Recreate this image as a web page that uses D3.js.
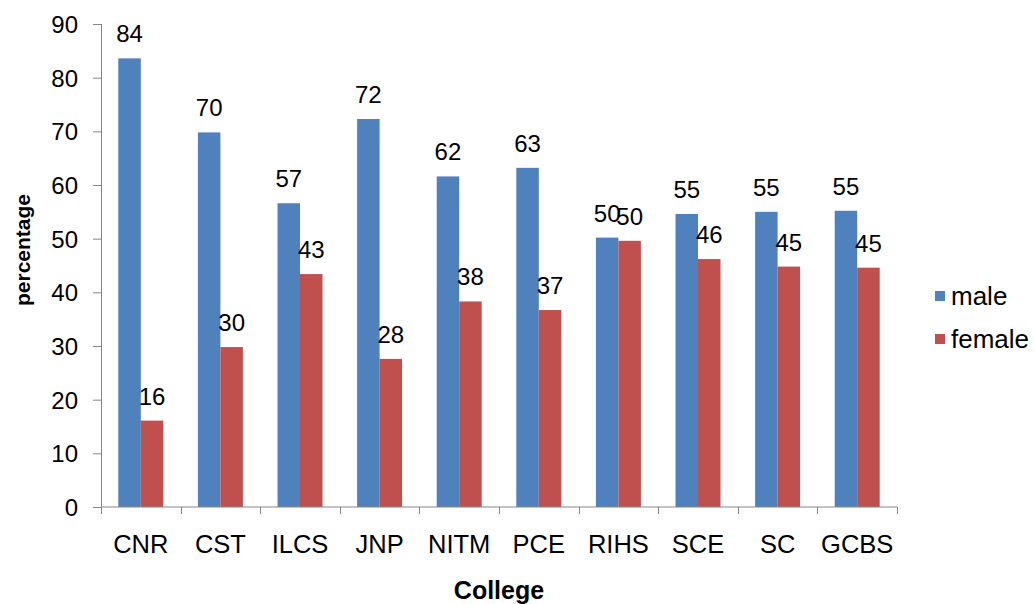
<!DOCTYPE html>
<html>

<head>
    <script src="https://d3js.org/d3.v7.min.js"></script>
    <style>
        body {
            margin: 0;
            background: #ffffff;
        }

        svg text {
            font-family: "Liberation Sans", Arial, sans-serif;
            fill: #000;
        }
    </style>
</head>

<body>
    <div id="chart"></div>

    <script>
        var colleges = ["CNR", "CST", "ILCS", "JNP", "NITM", "PCE", "RIHS", "SCE", "SC", "GCBS"];
        var male = [83.6, 69.8, 56.6, 72.3, 61.6, 63.2, 50.2, 54.6, 55.0, 55.2];
        var female = [16.1, 29.8, 43.4, 27.6, 38.3, 36.7, 49.6, 46.2, 44.8, 44.6];
        var seriesNames = ["male", "female"];
        var yTicks = [0, 10, 20, 30, 40, 50, 60, 70, 80, 90];

        var width = 1034,
            height = 604;

        var margin = { top: 24, right: 137, bottom: 97, left: 101 };
        var innerW = width - margin.left - margin.right,
            innerH = height - margin.top - margin.bottom;

        var color = d3.scaleOrdinal()
            .domain(seriesNames)
            .range(["#4f81bd", "#c0504d"]);

        var axisColor = "#868686";

        var svg = d3.select("#chart")
            .append("svg")
            .attr("width", width)
            .attr("height", height);

        var g = svg.append("g")
            .attr("transform", "translate(" + margin.left + "," + margin.top + ")");

        var x0 = d3.scaleBand()
            .domain(colleges)
            .range([0, innerW])
            .paddingInner(0.435)
            .paddingOuter(0.2175);

        var x1 = d3.scaleBand()
            .domain(seriesNames)
            .range([0, x0.bandwidth()]);

        var y = d3.scaleLinear()
            .domain([0, 90])
            .range([innerH, 0]);

        var data = colleges.map(function(c, i) {
            return { college: c, values: [
                { key: "male", value: male[i] },
                { key: "female", value: female[i] }
            ] };
        });

        // bars
        var groups = g.selectAll(".group")
            .data(data)
            .enter()
            .append("g")
            .attr("class", "group")
            .attr("transform", function(d) {
                return "translate(" + x0(d.college) + ",0)";
            });

        groups.selectAll("rect")
            .data(function(d) { return d.values; })
            .enter()
            .append("rect")
            .attr("x", function(d) { return x1(d.key); })
            .attr("y", function(d) { return y(d.value); })
            .attr("width", x1.bandwidth())
            .attr("height", function(d) { return innerH - y(d.value); })
            .attr("fill", function(d) { return color(d.key); });

        groups.selectAll(".val")
            .data(function(d) { return d.values; })
            .enter()
            .append("text")
            .attr("class", "val")
            .attr("x", function(d) { return x1(d.key) + x1.bandwidth() / 2; })
            .attr("y", function(d) { return y(d.value) - 16; })
            .attr("text-anchor", "middle")
            .style("font-size", "24px")
            .text(function(d) { return d3.format(".0f")(d.value); });

        // y axis
        var yAxis = g.append("g")
            .call(d3.axisLeft(y).tickValues(yTicks).tickSize(8).tickPadding(15));

        yAxis.select(".domain").attr("stroke", axisColor).attr("d", "M0.5," + innerH + "V0");
        yAxis.selectAll(".tick line").attr("stroke", axisColor);
        yAxis.selectAll(".tick text")
            .style("font-size", "24px")
            .attr("dy", "0.35em");

        // x axis, ticks between categories
        var xAxisG = g.append("g")
            .attr("transform", "translate(0," + innerH + ")");

        xAxisG.append("line")
            .attr("x1", 0)
            .attr("x2", innerW)
            .attr("stroke", axisColor);

        var bounds = d3.range(colleges.length + 1).map(function(i) {
            return i * x0.step();
        });

        xAxisG.selectAll(".xtick")
            .data(bounds)
            .enter()
            .append("line")
            .attr("class", "xtick")
            .attr("x1", function(d) { return Math.round(d) + 0.5; })
            .attr("x2", function(d) { return Math.round(d) + 0.5; })
            .attr("y1", 0)
            .attr("y2", 7)
            .attr("stroke", axisColor);

        xAxisG.selectAll(".xlabel")
            .data(colleges)
            .enter()
            .append("text")
            .attr("class", "xlabel")
            .attr("x", function(d) { return x0(d) + x0.bandwidth() / 2; })
            .attr("y", 46)
            .attr("text-anchor", "middle")
            .style("font-size", "25.5px")
            .text(function(d) { return d; });

        // axis titles
        svg.append("text")
            .attr("x", margin.left + innerW / 2)
            .attr("y", 599)
            .attr("text-anchor", "middle")
            .style("font-size", "25px")
            .style("font-weight", "bold")
            .text("College");

        svg.append("text")
            .attr("transform", "translate(30,250) rotate(-90)")
            .attr("text-anchor", "middle")
            .style("font-size", "21px")
            .style("font-weight", "bold")
            .text("percentage");

        // legend
        var legend = svg.append("g")
            .attr("transform", "translate(935,296)");

        var item = legend.selectAll(".item")
            .data(seriesNames)
            .enter()
            .append("g")
            .attr("class", "item")
            .attr("transform", function(d, i) { return "translate(0," + i * 43 + ")"; });

        item.append("rect")
            .attr("x", 0)
            .attr("y", -5)
            .attr("width", 10)
            .attr("height", 10)
            .attr("fill", function(d) { return color(d); });

        item.append("text")
            .attr("x", 16)
            .attr("y", 0)
            .attr("dy", "0.35em")
            .style("font-size", "26px")
            .text(function(d) { return d; });
    </script>

</body>

</html>
